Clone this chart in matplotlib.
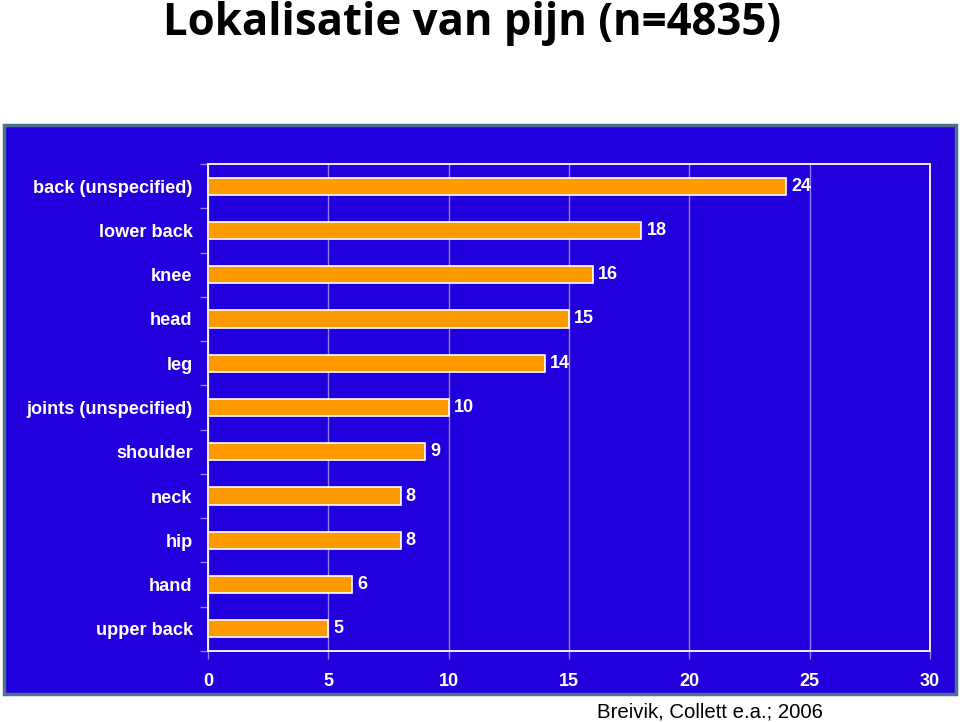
import matplotlib
matplotlib.use("Agg")
import matplotlib.pyplot as plt
from matplotlib.patches import Rectangle
import numpy as np

categories = ["back (unspecified)", "lower back", "knee", "head", "leg",
              "joints (unspecified)", "shoulder", "neck", "hip", "hand", "upper back"]
values = [24, 18, 16, 15, 14, 10, 9, 8, 8, 6, 5]
xticks = [0, 5, 10, 15, 20, 25, 30]

BLUE = "#2200DD"
ORANGE = "#FF9900"
GRID = "#8C80F0"

fig = plt.figure(figsize=(9.6, 7.22), dpi=100)
fig.patch.set_facecolor("white")

# blue panel as background axes
bg = fig.add_axes([0, 0, 1, 1], zorder=-5)
bg.set_xlim(0, 960)
bg.set_ylim(722, 0)
bg.axis("off")
bg.add_patch(Rectangle((4, 125), 952, 569, facecolor=BLUE,
                       edgecolor="#4F6F90", linewidth=2.5))

fig.text(472/960, 1 - 24/722, "Lokalisatie van pijn (n=4835)", ha="center", va="center",
         fontsize=31.5, fontweight="bold", family="Open Sans", color="black")

ax = fig.add_axes([208/960, 1 - 651/722, (930-208)/960, (651-164)/722], zorder=1)
ax.set_facecolor(BLUE)

n = len(categories)
y = np.arange(n)[::-1]
ax.barh(y, values, height=0.39, color=ORANGE, edgecolor="white", linewidth=1.2, zorder=3)
for yi, v in zip(y, values):
    ax.text(v + 0.22, yi, f"{v}", va="center", ha="left", color="white",
            fontsize=13, fontweight="bold", family="Liberation Sans")

ax.set_xlim(0, 30)
ax.set_ylim(-0.5, n - 0.5)
ax.set_xticks(xticks)
ax.set_xticklabels([str(t) for t in xticks], color="white", fontsize=13,
                   fontweight="bold", family="Liberation Sans")
ax.set_yticks(y)
ax.set_yticklabels(categories, color="white", fontsize=13.1, fontweight="bold",
                   family="Liberation Sans")
ax.set_yticks(np.arange(-0.5, n, 1.0), minor=True)
ax.tick_params(axis="y", which="major", length=0, pad=11)
ax.tick_params(axis="y", which="minor", length=6, color=GRID, width=1)
ax.tick_params(axis="x", which="major", length=6, color=GRID, width=1, pad=10)
ax.grid(axis="x", color=GRID, linewidth=1, zorder=1)
ax.set_axisbelow(True)
for s in ax.spines.values():
    s.set_color("white")
    s.set_linewidth(1.3)

fig.text(710/960, 1 - 712/722, "Breivik, Collett e.a.; 2006", ha="center", va="center",
         fontsize=14.7, family="Liberation Sans", color="black")

fig.savefig("out.png", dpi=100, facecolor="white")
